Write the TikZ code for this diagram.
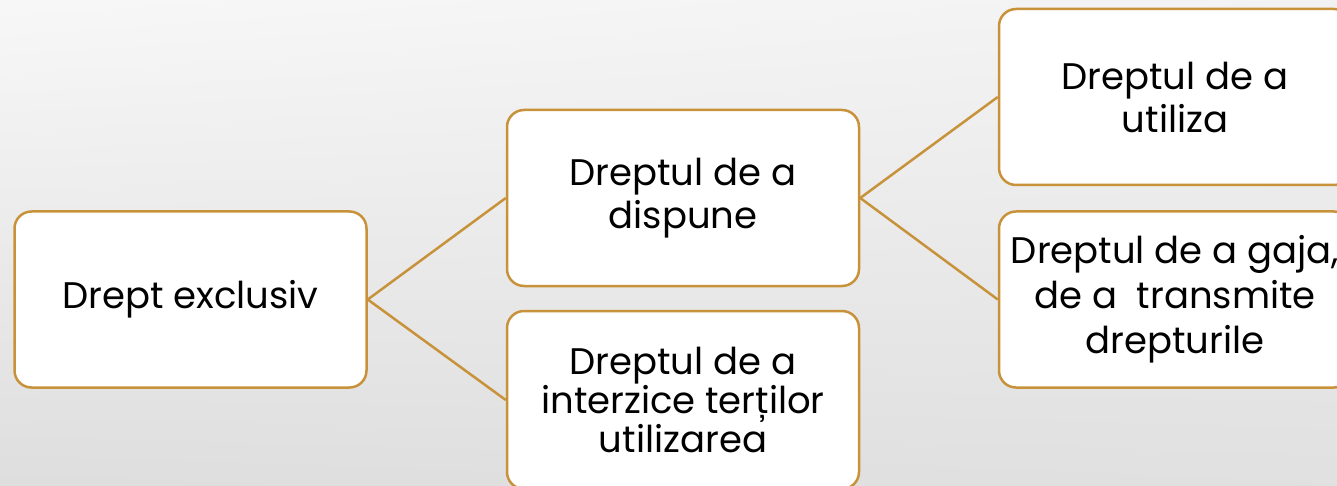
\documentclass[tikz,border=0pt]{standalone}
\usepackage{fontspec}
\setmainfont{Poppins}
\usetikzlibrary{shadings}
\definecolor{gold}{HTML}{C8923A}
\tikzset{
  box/.style={draw=gold, line width=2.5pt, fill=white, rounded corners=17pt,
    minimum width=352pt, minimum height=176pt, inner sep=0pt, align=center,
    font=\fontsize{37}{43}\selectfont},
  link/.style={draw=gold, line width=2.5pt}
}
\begin{document}
\begin{tikzpicture}[x=1pt,y=-1pt]
    %% background
    \clip (0,0) rectangle (1337,486);
    \shade[upper left=white!97!black, upper right=white!95!black,
      lower left=white!87!black, lower right=white!88!black] (0,0) rectangle (1337,486);
    %% boxes
    \node[box] (excl) at (190.5,299.5) {Drept exclusiv};
    \node[box] (disp) at (683,198) {Dreptul de a\\dispune};
    \node[box, minimum height=178pt, font=\fontsize{37}{39}\selectfont] (interz) at (683,400) {Dreptul de a\\interzice terților\\utilizarea};
    \node[box] (util) at (1175,97) {Dreptul de a\\utiliza};
    \node[box, font=\fontsize{37}{45}\selectfont] (gaja) at (1175,299.5) {Dreptul de a gaja,\\de a~ transmite\\drepturile};
    %% links
    \draw[link] (excl.east) -- (disp.west);
    \draw[link] (excl.east) -- (interz.west);
    \draw[link] (disp.east) -- (util.west);
    \draw[link] (disp.east) -- (gaja.west);
\end{tikzpicture}
\end{document}
